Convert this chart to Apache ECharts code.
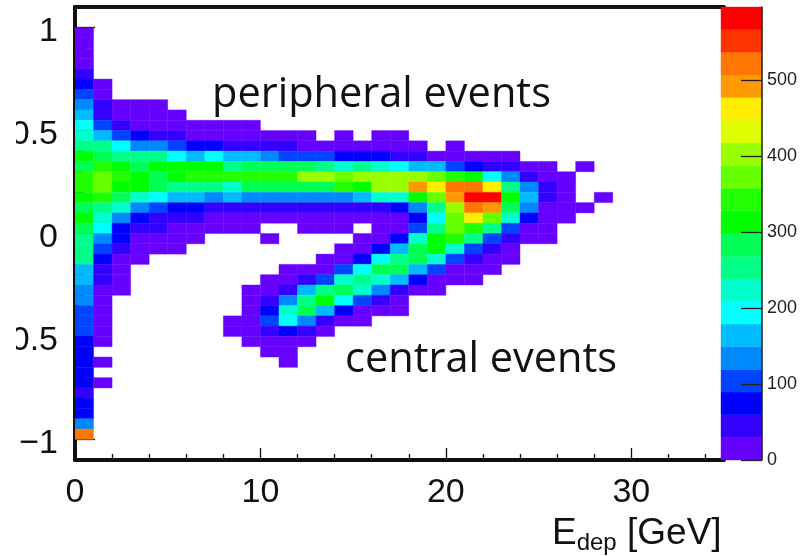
<!DOCTYPE html>
<html>
<head>
<meta charset="utf-8">
<style>html,body{margin:0;padding:0;background:#fff}#c{width:805px;height:556px}</style>
<script src="https://cdn.jsdelivr.net/npm/echarts@6/dist/echarts.min.js"></script>
</head>
<body>
<div id="c"></div>
<script>
// Counts per bin, one list per row of y bins from y = 1 (top) down to y = -1; each list starts at E = 0, 1 GeV per bin.
const r00=[15];
const r01=[15];
const r02=[15];
const r03=[15];
const r04=[45];
const r05=[75,15];
const r06=[105,15];
const r07=[135,45,15,15,15];
const r08=[165,45,15,15,15,15];
const r09=[195,105,45,15,15,15,15,15,15,15];
const r10=[225,165,105,75,45,45,15,15,15,15,15,15,15,0,15,0,15,15];
const r11=[255,255,195,135,135,105,75,75,45,45,45,45,15,15,15,15,15,15,15,0,15];
const r12=[315,285,255,255,255,195,165,195,165,165,135,105,105,105,75,75,75,45,45,15,15,15,15,15];
const r13=[285,345,315,285,315,315,315,315,255,285,285,285,285,255,225,255,225,195,165,165,105,75,45,45,15,15,0,15];
const r14=[345,375,345,315,285,315,345,345,345,345,345,345,405,405,375,405,405,405,405,375,345,315,195,135,45,15,15];
const r15=[345,375,315,315,285,255,255,255,225,285,285,285,285,285,345,315,405,405,495,465,525,525,465,255,135,45,15];
const r16=[315,345,285,225,195,165,165,135,165,135,135,135,135,135,135,165,225,225,315,375,495,585,585,315,165,45,15,0,15];
const r17=[285,255,225,135,105,75,75,45,45,45,45,45,45,45,45,45,45,75,135,255,405,525,495,285,135,15,15,15];
const r18=[315,225,135,75,45,45,45,15,15,15,15,15,15,15,15,15,15,15,75,195,375,465,375,225,75,15,15];
const r19=[285,195,75,45,45,15,15,15,15,15,0,0,15,15,15,0,15,15,105,255,375,345,255,105,15,15];
const r20=[255,135,75,15,15,15,15,0,0,0,15,0,0,0,0,15,15,75,225,315,345,255,105,45,15,15];
const r21=[255,105,45,15,15,15,0,0,0,0,0,0,0,0,15,15,75,165,285,315,225,105,45,15];
const r22=[255,75,15,15,0,0,0,0,0,0,0,0,0,15,15,75,195,255,285,225,105,45,15,15];
const r23=[165,45,15,0,0,0,0,0,0,0,0,15,15,15,105,195,285,285,165,105,15,15,15];
const r24=[165,45,15,0,0,0,0,0,0,0,15,15,45,105,225,255,225,165,75,15,15,15];
const r25=[135,15,15,0,0,0,0,0,0,15,15,45,165,255,285,225,135,45,15,15];
const r26=[135,15,0,0,0,0,0,0,0,15,45,135,255,315,195,105,45,15];
const r27=[105,15,0,0,0,0,0,0,0,15,75,225,285,165,75,15,15,15];
const r28=[105,15,0,0,0,0,0,0,15,15,105,195,135,45,15,15];
const r29=[105,15,0,0,0,0,0,0,15,15,45,75,45,15];
const r30=[75,15,0,0,0,0,0,0,0,15,15,15,15];
const r31=[75,0,0,0,0,0,0,0,0,0,15,15];
const r32=[75,15,0,0,0,0,0,0,0,0,0,15];
const r33=[75];
const r34=[75,15];
const r35=[45];
const r36=[75];
const r37=[75];
const r38=[135];
const r39=[525];
const rows=[r00,r01,r02,r03,r04,r05,r06,r07,r08,r09,r10,r11,r12,r13,r14,r15,r16,r17,r18,r19,
            r20,r21,r22,r23,r24,r25,r26,r27,r28,r29,r30,r31,r32,r33,r34,r35,r36,r37,r38,r39];

const palette=['#6600ff','#3300ff','#0000ff','#0044ff','#0088ff','#00bbff','#00ffff','#00ffcc','#00ff88','#00ff55',
               '#00ff00','#22ff00','#66ff00','#99ff00','#ddff00','#ffee00','#ff9900','#ff7700','#ff3300','#ff0000'];
const zMax=596;
const yLabelTicks=[-1,-0.5,0,0.5,1];
const yMinorTicks=[-0.9,-0.8,-0.7,-0.6,-0.4,-0.3,-0.2,-0.1,0.1,0.2,0.3,0.4,0.6,0.7,0.8,0.9];
const zTicks=[0,100,200,300,400,500];
const binW=1, binH=0.05;

const bandW=zMax/palette.length;
const colorOf=v=>palette[Math.min(palette.length-1,Math.floor(v/bandW))];
const cells=[];
rows.forEach((row,r)=>row.forEach((v,c)=>{ if(v>0) cells.push([c,1-binH*(r+1),v]); }));
const bands=palette.map((col,i)=>[i*bandW,(i+1)*bandW]);

const ink='#111';
const tickFont='"Liberation Sans", Arial, sans-serif';
const chart=echarts.init(document.getElementById('c'),null,{renderer:'canvas'});
chart.setOption({
  animation:false,
  backgroundColor:'#fff',
  grid:[
    {left:75,top:7,width:649,height:453,outerBoundsMode:'none'},
    {left:721,top:7,width:41,height:453,z:5,outerBoundsMode:'none'}
  ],
  xAxis:[
    {type:'value',gridIndex:0,min:0,max:35,interval:10,position:'bottom',
     axisLine:{show:true,onZero:false,lineStyle:{color:ink,width:4}},
     axisTick:{show:true,inside:true,length:12,lineStyle:{color:ink,width:1.3}},
     minorTick:{show:true,splitNumber:5,length:6,lineStyle:{color:ink,width:1.3}},
     axisLabel:{show:true,margin:16,fontSize:34,color:'#111',fontFamily:tickFont,showMaxLabel:false,
       formatter:v=>v>30?'':String(v)},
     splitLine:{show:false}},
    {type:'value',gridIndex:0,min:0,max:35,position:'top',
     axisLine:{show:true,onZero:false,lineStyle:{color:ink,width:4}},
     axisTick:{show:false},axisLabel:{show:false},splitLine:{show:false}},
    {type:'value',gridIndex:1,min:0,max:1,show:false}
  ],
  yAxis:[
    {type:'value',gridIndex:0,min:-1.1,max:1.1,position:'left',
     axisLine:{show:true,onZero:false,lineStyle:{color:ink,width:4}},
     axisTick:{show:true,inside:true,length:20,customValues:yLabelTicks,lineStyle:{color:ink,width:1.3}},
     axisLabel:{show:true,margin:17,fontSize:34,color:'#111',fontFamily:tickFont,customValues:yLabelTicks,
       formatter:v=>'{a|'+String(v).replace('-','\u2212')+'}',
       rich:{a:{fontSize:34,fontFamily:tickFont,color:'#111',lineHeight:40,padding:[8,0,0,0]}}},
     splitLine:{show:false}},
    {type:'value',gridIndex:0,min:-1.1,max:1.1,position:'left',offset:0,
     axisLine:{show:false},
     axisTick:{show:true,inside:true,length:10,customValues:yMinorTicks,lineStyle:{color:ink,width:1.3}},
     axisLabel:{show:false},splitLine:{show:false}},
    {type:'value',gridIndex:1,min:0,max:zMax,position:'right',z:6,
     axisLine:{show:true,onZero:false,lineStyle:{color:'#222',width:1.5}},
     axisTick:{show:true,inside:true,length:21,customValues:zTicks,lineStyle:{color:'#222',width:1.3}},
     axisLabel:{show:true,margin:5,fontSize:18,color:'#222',fontFamily:tickFont,customValues:zTicks},
     splitLine:{show:false}}
  ],
  series:[
    {type:'custom',name:'counts',xAxisIndex:0,yAxisIndex:0,data:cells,clip:true,z:1,
     renderItem:(p,api)=>{
       const a=api.coord([api.value(0),api.value(1)+binH]);
       const b=api.coord([api.value(0)+binW,api.value(1)]);
       return {type:'rect',shape:{x:a[0],y:a[1],width:b[0]-a[0],height:b[1]-a[1]},
         style:{fill:colorOf(api.value(2)),stroke:colorOf(api.value(2)),lineWidth:0.4}};
     }},
    {type:'custom',name:'palette',xAxisIndex:2,yAxisIndex:2,data:bands,clip:false,z:4,
     renderItem:(p,api)=>{
       const a=api.coord([0,api.value(1)]);
       const b=api.coord([1,api.value(0)]);
       return {type:'rect',shape:{x:a[0],y:a[1],width:b[0]-a[0],height:b[1]-a[1]},
         style:{fill:palette[p.dataIndex],stroke:palette[p.dataIndex],lineWidth:0.4}};
     }}
  ],
  graphic:[
    {type:'rect',z:100,zlevel:1,shape:{x:0,y:0,width:16,height:556},style:{fill:'#fff'}},
    {type:'text',z:101,zlevel:1,x:212,y:74,style:{text:'peripheral events',fontFamily:'"Open Sans"',fontSize:41.5,fill:'#111'}},
    {type:'text',z:101,zlevel:1,x:345,y:339,style:{text:'central events',fontFamily:'"Open Sans"',fontSize:41.5,fill:'#111'}},
    {type:'text',z:101,zlevel:1,x:552,y:515,style:{
       text:'{e|E}{d|dep}{g| [GeV]}',fontFamily:tickFont,fill:'#111',
       rich:{
         e:{fontSize:37,fontFamily:tickFont,lineHeight:40,verticalAlign:'top',fill:'#111'},
         d:{fontSize:24,fontFamily:tickFont,lineHeight:26,padding:[33,0,0,0],verticalAlign:'bottom',fill:'#111'},
         g:{fontSize:37,fontFamily:tickFont,lineHeight:40,verticalAlign:'top',fill:'#111'}
       }}}
  ]
});
</script>
</body>
</html>
